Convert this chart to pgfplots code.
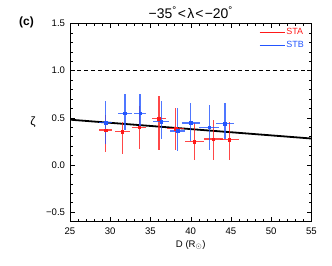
\documentclass[border=0pt]{standalone}
\usepackage{pgfplots}
\pgfplotsset{compat=1.18}
\usepackage{pgfplotstable}
\usepackage{fontspec}
\setmainfont{Liberation Sans}
\definecolor{stared}{RGB}{255,25,25}
\definecolor{stbblue}{RGB}{35,85,255}

\pgfplotstableread{
x y ex eym eyp
29.40 0.370 0.85 0.230 0.160
31.50 0.350 0.90 0.230 0.110
33.60 0.400 0.90 0.230 0.220
36.05 0.490 0.90 0.330 0.240
38.15 0.385 1.05 0.225 0.215
40.45 0.245 1.15 0.195 0.200
42.80 0.275 1.20 0.225 0.205
44.80 0.270 1.15 0.220 0.190
}\stadata

\pgfplotstableread{
x y ex eym eyp
29.45 0.450 0.80 0.230 0.230
31.83 0.550 0.90 0.180 0.200
33.70 0.550 0.80 0.150 0.200
36.35 0.460 1.00 0.190 0.215
38.35 0.360 0.95 0.215 0.240
40.00 0.445 1.10 0.195 0.215
42.30 0.400 1.25 0.240 0.240
44.25 0.435 1.15 0.155 0.225
}\stbdata

\begin{document}
\begin{tikzpicture}
\begin{axis}[
  at={(0,0)}, anchor=south west,
  scale only axis, width=241.5bp, height=198bp,
  xmin=25, xmax=55, ymin=-0.6, ymax=1.5,
  xtick={25,30,...,55}, minor x tick num=4,
  ytick={-0.5,0,0.5,1,1.5},
  yticklabels={−0.5,0.0,0.5,1.0,1.5},
  minor y tick num=4,
  tick align=inside,
  major tick length=5bp, minor tick length=2.5bp,
  /pgf/number format/assume math mode=true,
  xticklabel style={font=\fontsize{9.6}{10}\selectfont, yshift=-3bp},
  yticklabel style={font=\fontsize{9.6}{10}\selectfont, xshift=-1.5bp},
  axis line style={line width=0.6bp},
  every tick/.style={black, line width=0.5bp},
  legend style={draw=none, fill=none, at={(1,1)}, anchor=north east,
    xshift=-6bp, yshift=-3bp, inner sep=0pt, row sep=2.5bp,
    font=\fontsize{9}{10}\selectfont, nodes={inner sep=1.5bp}},
  legend cell align=left,
  legend image code/.code={\draw[#1] (0bp,0bp) -- (25bp,0bp);},
]
\addplot[black, dash pattern=on 4bp off 3bp, line width=0.6bp, forget plot]
  coordinates {(25,1) (55,1)};
\addplot[black, line width=1.8bp, forget plot]
  coordinates {(25,0.48) (55,0.28)};
\addplot[stared, only marks, mark=square*, mark size=1.3bp, forget plot,
  error bars/.cd, x dir=both, x explicit, y dir=both, y explicit,
  error bar style={line width=1.1bp, opacity=0.8}, error mark=none]
  table[x=x, y=y, x error=ex, y error plus=eyp, y error minus=eym]{\stadata};
\addplot[stbblue, only marks, mark=square*, mark size=1.3bp, forget plot,
  error bars/.cd, x dir=both, x explicit, y dir=both, y explicit,
  error bar style={line width=1.1bp, opacity=0.8}, error mark=none]
  table[x=x, y=y, x error=ex, y error plus=eyp, y error minus=eym]{\stbdata};
\addlegendimage{stared, line width=0.6bp}
\addlegendentry{\textcolor{stared}{STA}}
\addlegendimage{stbblue, line width=0.6bp}
\addlegendentry{\textcolor{stbblue}{STB}}
\end{axis}
\node[font=\fontsize{14}{16}\selectfont] at (120.75bp,208.5bp)
  {−35\textsuperscript{°}\hspace{1.2bp}<\hspace{1.2bp}λ\hspace{1.2bp}<\hspace{1.2bp}−20\textsuperscript{°}};
\node[font=\bfseries\fontsize{12}{14}\selectfont] at (-43.5bp,199.5bp) {(c)};
\node[font=\fontsize{12}{14}\selectfont] at (-37bp,99.5bp) {ζ};
\node[font=\fontsize{9.6}{10}\selectfont] at (120.75bp,-23.5bp) {D (R$_\odot$)};
\pgfresetboundingbox
\path[use as bounding box] (-70bp,-44.5bp) rectangle (262bp,221.5bp);
\end{tikzpicture}
\end{document}
